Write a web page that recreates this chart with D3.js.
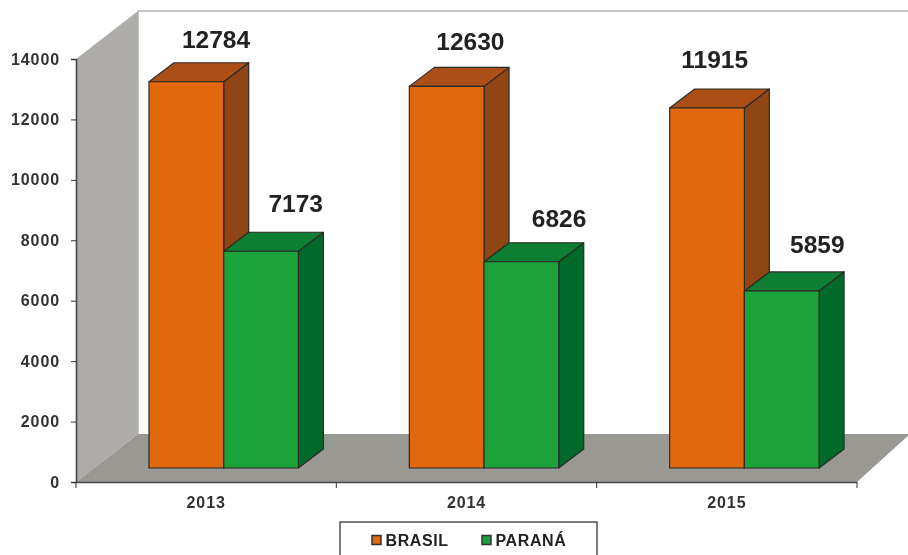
<!DOCTYPE html>
<html><head><meta charset="utf-8">
<script src="https://cdn.jsdelivr.net/npm/d3@7/dist/d3.min.js"></script>
<style>html,body{margin:0;padding:0;background:#fff;overflow:hidden}svg{display:block}text{font-family:"Liberation Sans",Arial,sans-serif;font-weight:bold}</style>
</head><body><svg id="c" width="908" height="555"></svg>
<script>
const categories = ["2013","2014","2015"];
const seriesNames = ["BRASIL","PARANÁ"];
const brasil = [12784,12630,11915];
const parana = [7173,6826,5859];
const yTicks = [0,2000,4000,6000,8000,10000,12000,14000];

const W=908,H=555;
const svg=d3.select("#c");
const defs=svg.append("defs");
defs.append("filter").attr("id","soft").attr("x","-5%").attr("y","-5%").attr("width","110%").attr("height","110%")
  .append("feGaussianBlur").attr("stdDeviation",0.6);
const g=svg.append("g").attr("filter","url(#soft)");

const x=d3.scaleBand().domain(categories).range([76,857]);
const y=d3.scaleLinear().domain([0,14000]).range([482,59]);
const depthX=62,depthY=-48;
const barLift=14, barDX=18;
const barD={x:25,y:-19};
const barPad=55,barW=74.7;

const yTop=y(14000), yBot=y(0), xL=x.range()[0], xR=x.range()[1];
g.append("path").attr("d",`M${xL},${yTop}L${xL+depthX},${yTop+depthY}V${yBot+depthY}L${xL},${yBot}Z`).attr("fill","#aeaca8");
g.append("path").attr("d",`M${xL},${yBot}L${xL+depthX},${yBot+depthY}H${W+2}L${xR},${yBot}Z`).attr("fill","#9a9893");
g.append("path").attr("d",`M${xL+depthX},${yBot+depthY}V${yTop+depthY}H${W+2}`).attr("fill","none").attr("stroke","#b5b3af").attr("stroke-width",1.5);

const yAxis=d3.axisLeft(y).tickValues(yTicks).tickSize(5).tickPadding(11).tickFormat(d3.format("d"));
const ya=g.append("g").attr("transform",`translate(${xL},0)`).call(yAxis);
const xa=g.append("g").attr("transform",`translate(0,${yBot})`).call(d3.axisBottom(x).tickSize(0).tickPadding(14));
xa.select(".domain").attr("d",`M${xL},0.5H${xR}`);
d3.range(categories.length+1).forEach(i=>{
  const px=xL+i*x.bandwidth();
  xa.append("line").attr("x1",px).attr("x2",px).attr("y1",0).attr("y2",6).attr("stroke","#333");
});
[ya,xa].forEach(a=>{a.selectAll(".domain").attr("stroke","#444").attr("stroke-width",1.6);a.selectAll(".tick line").attr("stroke","#333");});
ya.selectAll("text").attr("font-size",16).attr("letter-spacing",0.9).attr("fill","#333");
xa.selectAll("text").attr("font-size",16).attr("letter-spacing",0.9).attr("fill","#333").attr("y",15);

const colors=[{f:"#e1670f",t:"#ab4f16",s:"#8f4416"},{f:"#1ba23a",t:"#0b7f30",s:"#026b2c"}];
categories.forEach((c,i)=>{
  [brasil[i],parana[i]].forEach((v,j)=>{
    const bx=x(c)+barPad+barDX+j*barW;
    const h=y(0)-y(v), by=yBot-barLift, ty=by-h;
    const col=colors[j];
    const st={stroke:"#2b2b26","stroke-width":1.2,"stroke-linejoin":"round"};
    const side=g.append("path").attr("d",`M${bx+barW},${ty}l${barD.x},${barD.y}V${by+barD.y}l${-barD.x},${-barD.y}Z`).attr("fill",col.s);
    const tp=g.append("path").attr("d",`M${bx},${ty}l${barD.x},${barD.y}H${bx+barW+barD.x}l${-barD.x},${-barD.y}Z`).attr("fill",col.t);
    const fr=g.append("rect").attr("x",bx).attr("y",ty).attr("width",barW).attr("height",h).attr("fill",col.f);
    [side,tp,fr].forEach(s=>Object.entries(st).forEach(([k,w])=>s.attr(k,w)));
  });
});
const lblOff=[[-43,-48],[-45,-44],[-49,-47]];
const lblDX=[[67,72],[61,75],[45,73]];
categories.forEach((c,i)=>{
  [brasil[i],parana[i]].forEach((v,j)=>{
    const bx=x(c)+barPad+barDX+j*barW;
    g.append("text").attr("x",bx+lblDX[i][j]).attr("y",y(v)-barLift+lblOff[i][j]+9)
     .attr("text-anchor","middle").attr("font-size",24.5).attr("fill","#222").text(v);
  });
});

g.append("rect").attr("x",340).attr("y",522).attr("width",257).attr("height",50).attr("fill","#fff").attr("stroke","#444").attr("stroke-width",1.4);
const legX=[372,482];
seriesNames.forEach((n,i)=>{
  g.append("rect").attr("x",legX[i]).attr("y",535.5).attr("width",9).attr("height",9).attr("fill",colors[i].f).attr("stroke","#333").attr("stroke-width",1.5);
  g.append("text").attr("x",legX[i]+13.5).attr("y",546).attr("font-size",16).attr("letter-spacing",0.6).attr("fill","#222").text(n);
});
</script></body></html>
